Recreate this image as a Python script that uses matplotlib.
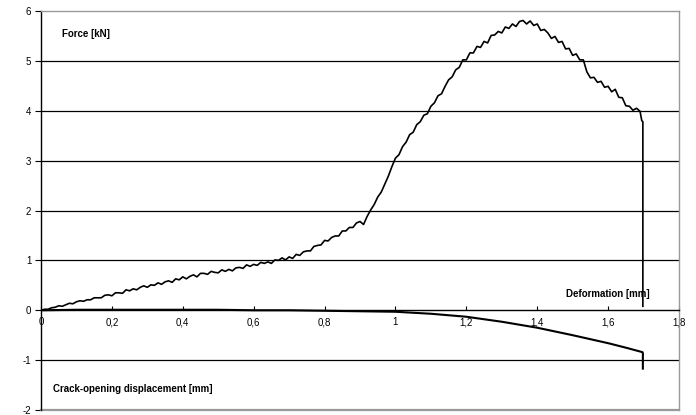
import matplotlib
matplotlib.use("Agg")
import matplotlib.pyplot as plt

# force curve (deformation [mm], force [kN])
deformation = [
    0.00, 0.01, 0.02, 0.03, 0.04, 0.05, 0.06, 0.07, 0.08, 0.09,
    0.10, 0.11, 0.12, 0.13, 0.14, 0.15, 0.16, 0.17, 0.18, 0.19,
    0.20, 0.21, 0.22, 0.23, 0.24, 0.25, 0.26, 0.27, 0.28, 0.29,
    0.30, 0.31, 0.32, 0.33, 0.34, 0.35, 0.36, 0.37, 0.38, 0.39,
    0.40, 0.41, 0.42, 0.43, 0.44, 0.45, 0.46, 0.47, 0.48, 0.49,
    0.50, 0.51, 0.52, 0.53, 0.54, 0.55, 0.56, 0.57, 0.58, 0.59,
    0.60, 0.61, 0.62, 0.63, 0.64, 0.65, 0.66, 0.67, 0.68, 0.69,
    0.70, 0.71, 0.72, 0.73, 0.74, 0.75, 0.76, 0.77, 0.78, 0.79,
    0.80, 0.81, 0.82, 0.83, 0.84, 0.85, 0.86, 0.87, 0.88, 0.89,
    0.90, 0.91, 0.92, 0.93, 0.94, 0.95, 0.96, 0.97, 0.98, 0.99,
    1.00, 1.01, 1.02, 1.03, 1.04, 1.05, 1.06, 1.07, 1.08, 1.09,
    1.10, 1.11, 1.12, 1.13, 1.14, 1.15, 1.16, 1.17, 1.18, 1.19,
    1.20, 1.21, 1.22, 1.23, 1.24, 1.25, 1.26, 1.27, 1.28, 1.29,
    1.30, 1.31, 1.32, 1.33, 1.34, 1.35, 1.36, 1.37, 1.38, 1.39,
    1.40, 1.41, 1.42, 1.43, 1.44, 1.45, 1.46, 1.47, 1.48, 1.49,
    1.50, 1.51, 1.52, 1.53, 1.54, 1.55, 1.56, 1.57, 1.58, 1.59,
    1.60, 1.61, 1.62, 1.63, 1.64, 1.65, 1.66, 1.67, 1.68, 1.69,
    1.695, 1.698, 1.698,
]
force = [
    0.00, 0.02, 0.02, 0.05, 0.06, 0.09, 0.08, 0.11, 0.14, 0.13,
    0.17, 0.19, 0.18, 0.21, 0.21, 0.25, 0.25, 0.25, 0.30, 0.31,
    0.29, 0.35, 0.35, 0.34, 0.41, 0.39, 0.43, 0.41, 0.46, 0.49,
    0.46, 0.51, 0.50, 0.55, 0.52, 0.57, 0.59, 0.56, 0.63, 0.61,
    0.67, 0.63, 0.68, 0.71, 0.67, 0.74, 0.74, 0.72, 0.78, 0.76,
    0.75, 0.81, 0.78, 0.82, 0.79, 0.85, 0.86, 0.84, 0.91, 0.88,
    0.92, 0.90, 0.96, 0.94, 0.97, 0.94, 1.01, 1.00, 1.05, 1.01,
    1.07, 1.04, 1.12, 1.10, 1.17, 1.19, 1.19, 1.28, 1.30, 1.31,
    1.40, 1.39, 1.46, 1.49, 1.49, 1.59, 1.59, 1.66, 1.66, 1.75,
    1.78, 1.72, 1.88, 2.01, 2.12, 2.27, 2.37, 2.53, 2.69, 2.88,
    3.05, 3.12, 3.28, 3.37, 3.52, 3.57, 3.72, 3.78, 3.91, 3.94,
    4.09, 4.16, 4.30, 4.34, 4.49, 4.62, 4.68, 4.82, 4.87, 5.02,
    5.02, 5.16, 5.16, 5.29, 5.27, 5.39, 5.36, 5.51, 5.52, 5.59,
    5.56, 5.68, 5.65, 5.74, 5.69, 5.79, 5.81, 5.74, 5.80, 5.71,
    5.74, 5.61, 5.63, 5.56, 5.45, 5.49, 5.37, 5.39, 5.24, 5.25,
    5.11, 5.14, 5.02, 5.02, 4.78, 4.66, 4.67, 4.57, 4.59, 4.47,
    4.49, 4.38, 4.43, 4.27, 4.26, 4.10, 4.09, 4.01, 4.05, 3.99,
    3.80, 3.78, 0.08,
]

# crack-opening displacement curve
cod_x = [0.0, 0.1, 0.2, 0.3, 0.4, 0.5, 0.6, 0.7, 0.8, 0.9, 1.0, 1.1,
         1.2, 1.3, 1.4, 1.5, 1.6, 1.65, 1.697, 1.698, 1.698]
cod_y = [0.0, 0.01, 0.01, 0.01, 0.01, 0.01, 0.0, 0.0, -0.01, -0.02, -0.03, -0.07,
         -0.13, -0.23, -0.35, -0.50, -0.66, -0.75, -0.84, -0.86, -1.17]

x_ticks = [0, 0.2, 0.4, 0.6, 0.8, 1.0, 1.2, 1.4, 1.6, 1.8]
x_labels = ["0", "0,2", "0,4", "0,6", "0,8", "1", "1,2", "1,4", "1,6", "1,8"]
y_ticks = [-2, -1, 0, 1, 2, 3, 4, 5, 6]

plt.rcParams['font.family'] = ['Liberation Sans', 'DejaVu Sans']
plt.rcParams['axes.unicode_minus'] = False

fig = plt.figure(figsize=(6.96, 4.15), dpi=100)
ax = fig.add_axes([0.0589, 0.0120, 0.9167, 0.9615])

# gridlines
for yv in y_ticks[1:-1]:
    if yv != 0:
        ax.axhline(yv, color='black', linewidth=0.9, zorder=1)

ax.plot(deformation, force, color='black', linewidth=1.2, zorder=3)
ax.plot(cod_x, cod_y, color='black', linewidth=1.5, zorder=3)

ax.set_xlim(0, 1.8)
ax.set_ylim(-2, 6)

ax.spines['bottom'].set_position(('data', 0))
ax.spines['bottom'].set_color('black')
ax.spines['bottom'].set_linewidth(1.0)
ax.spines['left'].set_color('black')
ax.spines['left'].set_linewidth(1.0)
for s in ['top', 'right']:
    ax.spines[s].set_color('#999999')
    ax.spines[s].set_linewidth(1.0)
ax.axhline(-2, color='#999999', linewidth=1.6, zorder=2, clip_on=False)

ax.set_xticks(x_ticks)
ax.set_xticklabels(x_labels)
ax.set_yticks(y_ticks)
ax.tick_params(axis='x', direction='in', length=3, width=0.8, labelsize=7, pad=5)
ax.tick_params(axis='y', direction='out', length=4, width=0.8, labelsize=7, pad=3)

ax.text(0.059, 5.54, "Force [kN]", fontsize=7, fontweight='bold', va='center', ha='left')
ax.text(1.716, 0.32, "Deformation [mm]", fontsize=7, fontweight='bold', va='center', ha='right')
ax.text(0.034, -1.58, "Crack-opening displacement [mm]", fontsize=7, fontweight='bold',
        va='center', ha='left')

fig.savefig("out.png", dpi=100)
